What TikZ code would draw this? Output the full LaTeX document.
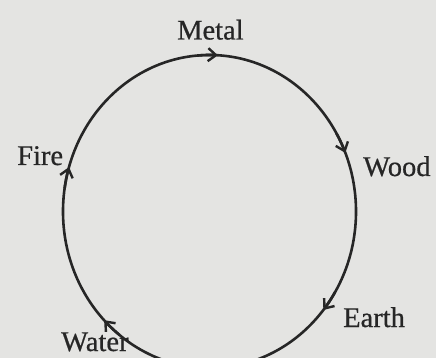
\documentclass[tikz,border=0pt]{standalone}
\usepackage{fontspec}
\setmainfont{Liberation Serif}[BoldFont={Liberation Serif},BoldFeatures={FakeBold=0.6}]
\usetikzlibrary{arrows.meta,calc}
\definecolor{paper}{HTML}{E4E4E2}
\definecolor{ink}{HTML}{262626}
\tikzset{
  lbl/.style={anchor=base west, inner sep=0pt, text=ink, font=\fontsize{28.5}{30}\selectfont\bfseries},
  ring/.style={draw=ink, line width=2.6pt},
  tipmark/.style={draw=ink, line width=2.6pt, -{Straight Barb[length=8pt,width=13pt,line width=2.4pt]}}
}
\begin{document}
\begin{tikzpicture}[x=1pt,y=-1pt]
  \fill[paper] (0,0) rectangle (436,358);
  \useasboundingbox (0,0) rectangle (436,358);
  \coordinate (c) at (209.5,211.5);
  \draw[ring] (c) ellipse [x radius=146.5, y radius=156.5];
  \foreach \t in {-86.7,-22,39,136,196.5}{
    \draw[tipmark] ($(c)+({146.5*cos(\t-8)},{156.5*sin(\t-8)})$) arc[start angle=\t-8, end angle=\t, x radius=146.5, y radius=156.5];
  }
  \node[lbl] (metal) at (177,39.5) {Metal};
  \node[lbl] (wood) at (363,176) {Wood};
  \node[lbl] (earth) at (343,327) {Earth};
  \node[lbl] (water) at (61,351) {Water};
  \node[lbl] (fire) at (17,165) {Fire};
\end{tikzpicture}
\end{document}
